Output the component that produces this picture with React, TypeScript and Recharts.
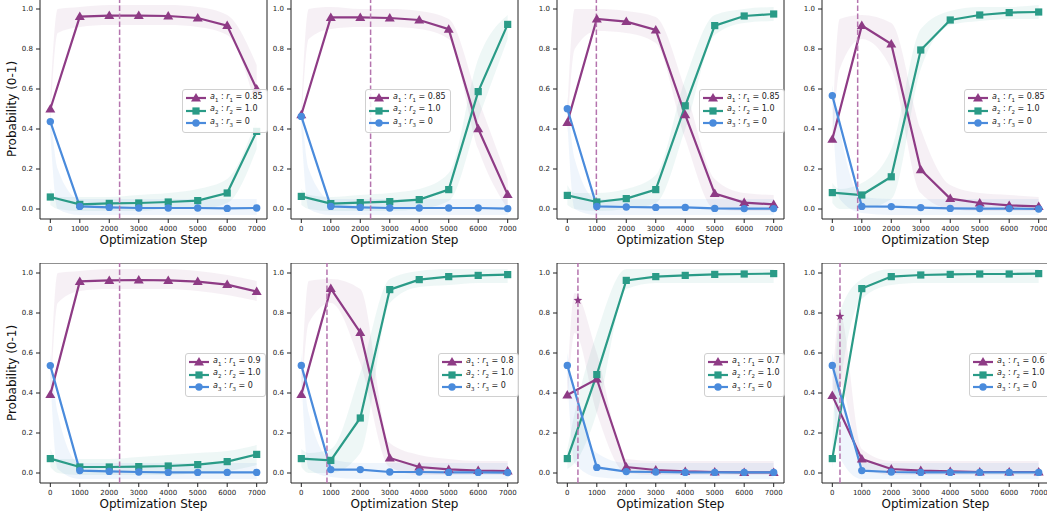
import {
  ComposedChart,
  Line,
  Area,
  XAxis,
  YAxis,
  ReferenceLine,
  ReferenceArea,
  Scatter,
  Legend,
} from "recharts";

// marker steps and the finer grid the std bands were sampled on
const MARK_STEPS = [0, 1000, 2000, 3000, 4000, 5000, 6000, 7000];
const BAND_STEPS = [0, 250, 1000, 2000, 3000, 4000, 5000, 6000, 7000];
const Y_TICKS = [0, 0.2, 0.4, 0.6, 0.8, 1.0];

// one row per panel (top row left->right, then bottom row)
const A1_MEAN = [
  [0.5, 0.962, 0.967, 0.967, 0.965, 0.955, 0.917, 0.6],
  [0.471, 0.958, 0.958, 0.955, 0.945, 0.899, 0.401, 0.072],
  [0.433, 0.95, 0.937, 0.895, 0.471, 0.077, 0.032, 0.023],
  [0.349, 0.917, 0.825, 0.196, 0.052, 0.03, 0.018, 0.013],
  [0.392, 0.958, 0.963, 0.965, 0.963, 0.957, 0.942, 0.907],
  [0.392, 0.922, 0.703, 0.075, 0.03, 0.018, 0.012, 0.01],
  [0.39, 0.47, 0.03, 0.015, 0.008, 0.005, 0.003, 0.003],
  [0.387, 0.07, 0.02, 0.012, 0.008, 0.005, 0.005, 0.005],
];
const A2_MEAN = [
  [0.06, 0.023, 0.028, 0.03, 0.035, 0.042, 0.08, 0.388],
  [0.063, 0.027, 0.032, 0.037, 0.047, 0.097, 0.587, 0.923],
  [0.068, 0.035, 0.052, 0.097, 0.516, 0.917, 0.965, 0.975],
  [0.082, 0.07, 0.161, 0.795, 0.945, 0.97, 0.982, 0.985],
  [0.072, 0.03, 0.03, 0.032, 0.035, 0.042, 0.057, 0.093],
  [0.072, 0.063, 0.275, 0.917, 0.967, 0.982, 0.988, 0.992],
  [0.072, 0.492, 0.963, 0.982, 0.988, 0.993, 0.995, 0.997],
  [0.072, 0.922, 0.982, 0.99, 0.993, 0.995, 0.995, 0.997],
];
const A3_MEAN = [
  [0.437, 0.013, 0.008, 0.005, 0.005, 0.005, 0.003, 0.005],
  [0.463, 0.013, 0.008, 0.005, 0.005, 0.005, 0.005, 0.002],
  [0.501, 0.013, 0.01, 0.008, 0.008, 0.003, 0.002, 0.002],
  [0.567, 0.013, 0.012, 0.007, 0.003, 0.002, 0.002, 0.0],
  [0.537, 0.012, 0.008, 0.005, 0.003, 0.003, 0.003, 0.003],
  [0.538, 0.017, 0.017, 0.005, 0.005, 0.003, 0.003, 0.002],
  [0.538, 0.028, 0.007, 0.005, 0.003, 0.003, 0.003, 0.003],
  [0.538, 0.012, 0.005, 0.003, 0.003, 0.003, 0.003, 0.003],
];

const A1_LO = [
  [0.45, 0.88, 0.91, 0.92, 0.92, 0.92, 0.91, 0.87, 0.5],
  [0.42, 0.85, 0.9, 0.91, 0.91, 0.9, 0.85, 0.3, 0.0],
  [0.38, 0.8, 0.89, 0.88, 0.83, 0.35, 0.0, -0.01, -0.01],
  [0.3, 0.7, 0.85, 0.7, 0.08, 0.0, -0.01, -0.01, -0.01],
  [0.35, 0.85, 0.91, 0.92, 0.92, 0.92, 0.91, 0.89, 0.86],
  [0.35, 0.75, 0.85, 0.55, 0.03, -0.01, -0.01, -0.01, -0.01],
  [0.35, 0.7, 0.3, 0.0, -0.01, -0.01, -0.01, -0.01, -0.01],
  [0.35, 0.45, 0.03, -0.01, -0.01, -0.01, -0.01, -0.01, -0.01],
];
const A1_HI = [
  [0.55, 1.0, 1.01, 1.02, 1.02, 1.02, 1.01, 0.97, 0.72],
  [0.5, 1.0, 1.01, 1.0, 1.0, 0.99, 0.95, 0.55, 0.15],
  [0.48, 1.0, 1.0, 0.99, 0.96, 0.6, 0.15, 0.08, 0.07],
  [0.4, 0.95, 0.97, 0.93, 0.4, 0.12, 0.08, 0.07, 0.06],
  [0.44, 1.0, 1.01, 1.02, 1.02, 1.02, 1.01, 0.99, 0.96],
  [0.44, 0.96, 0.97, 0.92, 0.15, 0.09, 0.07, 0.06, 0.06],
  [0.45, 0.9, 0.6, 0.07, 0.06, 0.06, 0.06, 0.06, 0.06],
  [0.43, 0.8, 0.12, 0.06, 0.06, 0.06, 0.06, 0.06, 0.06],
];
const A2_LO = [
  [0.02, 0.0, -0.01, -0.01, -0.01, 0.0, 0.0, 0.03, 0.3],
  [0.02, 0.0, -0.01, -0.01, -0.01, 0.0, 0.04, 0.45, 0.85],
  [0.02, 0.0, -0.01, 0.0, 0.03, 0.4, 0.87, 0.93, 0.94],
  [0.03, 0.0, 0.0, 0.05, 0.7, 0.92, 0.94, 0.95, 0.95],
  [0.03, 0.0, -0.01, -0.01, -0.01, -0.01, 0.0, 0.01, 0.04],
  [0.03, 0.0, 0.0, 0.1, 0.85, 0.93, 0.94, 0.95, 0.95],
  [0.02, 0.05, 0.3, 0.92, 0.95, 0.95, 0.95, 0.95, 0.95],
  [0.02, 0.4, 0.87, 0.94, 0.95, 0.95, 0.95, 0.95, 0.95],
];
const A2_HI = [
  [0.1, 0.06, 0.06, 0.06, 0.07, 0.08, 0.1, 0.15, 0.45],
  [0.1, 0.07, 0.06, 0.07, 0.08, 0.1, 0.18, 0.75, 0.97],
  [0.12, 0.08, 0.08, 0.1, 0.17, 0.65, 0.97, 1.0, 1.01],
  [0.13, 0.1, 0.13, 0.3, 0.9, 0.99, 1.01, 1.01, 1.02],
  [0.12, 0.07, 0.07, 0.07, 0.08, 0.09, 0.1, 0.11, 0.14],
  [0.12, 0.1, 0.12, 0.5, 0.97, 1.01, 1.02, 1.02, 1.02],
  [0.12, 0.3, 0.7, 1.02, 1.02, 1.02, 1.02, 1.02, 1.02],
  [0.12, 0.8, 0.97, 1.02, 1.02, 1.02, 1.02, 1.02, 1.02],
];
const A3_LO = [
  [0.38, 0.0, -0.03, -0.03, -0.03, -0.03, -0.03, -0.03, -0.03],
  [0.4, 0.0, -0.03, -0.03, -0.03, -0.03, -0.03, -0.03, -0.03],
  [0.44, 0.0, -0.03, -0.03, -0.03, -0.03, -0.03, -0.03, -0.03],
  [0.5, 0.05, -0.02, -0.03, -0.03, -0.03, -0.03, -0.03, -0.03],
  [0.48, 0.02, -0.03, -0.03, -0.03, -0.03, -0.03, -0.03, -0.03],
  [0.48, 0.02, -0.02, -0.03, -0.03, -0.03, -0.03, -0.03, -0.03],
  [0.48, 0.05, -0.02, -0.03, -0.03, -0.03, -0.03, -0.03, -0.03],
  [0.48, 0.08, -0.03, -0.03, -0.03, -0.03, -0.03, -0.03, -0.03],
];
const A3_HI = [
  [0.5, 0.2, 0.05, 0.05, 0.05, 0.05, 0.05, 0.05, 0.05],
  [0.52, 0.2, 0.05, 0.05, 0.05, 0.05, 0.05, 0.05, 0.05],
  [0.56, 0.25, 0.05, 0.05, 0.05, 0.05, 0.05, 0.05, 0.05],
  [0.62, 0.4, 0.06, 0.05, 0.05, 0.05, 0.05, 0.05, 0.05],
  [0.6, 0.3, 0.05, 0.05, 0.05, 0.05, 0.05, 0.05, 0.05],
  [0.6, 0.3, 0.07, 0.05, 0.05, 0.05, 0.05, 0.05, 0.05],
  [0.6, 0.4, 0.1, 0.05, 0.05, 0.05, 0.05, 0.05, 0.05],
  [0.6, 0.45, 0.05, 0.05, 0.05, 0.05, 0.05, 0.05, 0.05],
];

const R1_VALUES = ["0.85", "0.85", "0.85", "0.85", "0.9", "0.8", "0.7", "0.6"];
const R2_VALUE = "1.0";
const R3_VALUE = "0";
const DASH_STEP = [2350, 2350, 985, 860, 2350, 870, 360, 260];
const STARS = [null, null, null, null, null, null, {step: 360, p: 0.863}, {step: 260, p: 0.783}];

const C1 = "#8e3b85";
const C2 = "#2a9b87";
const C3 = "#4a8bdc";
const DASH_COLOR = "#b574ae";
const FONT = "DejaVu Sans, sans-serif";

// chart placement on the page (chart left, chart top, legend offset from plot left)
const COL_LEFT = [0, 251, 517, 782];
const ROW_TOP = [-1, 263];
const LEG_X = [142, 74, 142, 142, 145, 147, 147, 147];

const CHART_W = 268;
const CHART_H = 250;
const AXIS_W = 40;

function buildRows(i: number) {
  return BAND_STEPS.map((step, k) => {
    const m = MARK_STEPS.indexOf(step);
    return {
      step,
      a1: m >= 0 ? A1_MEAN[i][m] : null,
      a2: m >= 0 ? A2_MEAN[i][m] : null,
      a3: m >= 0 ? A3_MEAN[i][m] : null,
      b1: [A1_LO[i][k], A1_HI[i][k]],
      b2: [A2_LO[i][k], A2_HI[i][k]],
      b3: [A3_LO[i][k], A3_HI[i][k]],
    };
  });
}

function marker(kind: string, color: string, cx: number, cy: number, key?: any) {
  if (kind === "tri") {
    return (
      <polygon
        key={key}
        points={`${cx},${cy - 5} ${cx - 5},${cy + 3.5} ${cx + 5},${cy + 3.5}`}
        fill={color}
      />
    );
  }
  if (kind === "sq") {
    return <rect key={key} x={cx - 3.6} y={cy - 3.6} width={7.2} height={7.2} fill={color} />;
  }
  return <circle key={key} cx={cx} cy={cy} r={3.7} fill={color} />;
}

function dotFn(kind: string, color: string) {
  return (props: any) => {
    const {cx, cy, index} = props;
    if (!Number.isFinite(cx) || !Number.isFinite(cy)) return <g key={`e${index}`} />;
    return marker(kind, color, cx, cy, `d${index}`);
  };
}

function starShape(props: any) {
  const {cx, cy} = props;
  if (!Number.isFinite(cx) || !Number.isFinite(cy)) return <g />;
  const pts: string[] = [];
  for (let k = 0; k < 10; k++) {
    const r = k % 2 === 0 ? 4.6 : 1.9;
    const a = -Math.PI / 2 + (k * Math.PI) / 5;
    pts.push(`${cx + r * Math.cos(a)},${cy + r * Math.sin(a)}`);
  }
  return <polygon points={pts.join(" ")} fill={C1} />;
}

function LegendRow({kind, color, a, r, v}: any) {
  return (
    <div style={{display: "flex", alignItems: "center", height: 12.5}}>
      <svg width={20} height={10} style={{marginRight: 4, flex: "none"}}>
        <line x1={0} y1={5} x2={20} y2={5} stroke={color} strokeWidth={2.2} />
        {marker(kind, color, 10, 5)}
      </svg>
      <span style={{whiteSpace: "nowrap"}}>
        <i>a</i>
        <sub style={{fontSize: 5.5}}>{a}</sub> : <i>r</i>
        <sub style={{fontSize: 5.5}}>{r}</sub> = {v}
      </span>
    </div>
  );
}

function PanelLegend({r1}: {r1: string}) {
  return (
    <div
      style={{
        background: "rgba(255,255,255,0.85)",
        border: "1px solid #d0d0d0",
        borderRadius: 3,
        padding: "2px 4px 2px 3px",
        fontSize: 8,
        fontFamily: FONT,
        color: "#222",
        lineHeight: "10px",
      }}
    >
      <LegendRow kind="tri" color={C1} a="1" r="1" v={r1} />
      <LegendRow kind="sq" color={C2} a="2" r="2" v={R2_VALUE} />
      <LegendRow kind="dot" color={C3} a="3" r="3" v={R3_VALUE} />
    </div>
  );
}

function Panel({i}: {i: number}) {
  const rows = buildRows(i);
  const star = STARS[i];
  const tick = {fontSize: 7, fill: "#222", fontFamily: FONT};
  return (
    <div
      style={{
        position: "absolute",
        left: COL_LEFT[i % 4],
        top: ROW_TOP[Math.floor(i / 4)],
        width: CHART_W,
        height: CHART_H,
      }}
    >
      <ComposedChart
        width={CHART_W}
        height={CHART_H}
        data={rows}
        margin={{top: 0, right: 1, left: 0, bottom: 0}}
        style={{overflow: "visible"}}
      >
        <XAxis
          type="number"
          dataKey="step"
          domain={[-350, 7350]}
          ticks={MARK_STEPS}
          interval={0}
          allowDataOverflow
          axisLine={false}
          tickLine={{stroke: "#222"}}
          tickSize={4}
          tickMargin={3}
          tick={tick}
          height={30}
          label={{
            value: "Optimization Step",
            position: "insideBottom",
            offset: 5,
            fontSize: 12,
            fill: "#111",
            fontFamily: FONT,
          }}
        />
        <YAxis
          type="number"
          domain={[-0.05, 1.05]}
          ticks={Y_TICKS}
          interval={0}
          allowDataOverflow
          axisLine={false}
          tickLine={{stroke: "#222"}}
          tickSize={4}
          tickMargin={3}
          tick={tick}
          tickFormatter={(v: number) => v.toFixed(1)}
          width={AXIS_W}
          label={
            i % 4 === 0
              ? {
                  content: (p: any) => {
                    const vb = p.viewBox || {x: 0, y: 0, height: 220};
                    const cx = vb.x + 12;
                    const cy = vb.y + vb.height / 2;
                    return (
                      <text
                        x={cx}
                        y={cy}
                        transform={`rotate(-90 ${cx} ${cy})`}
                        textAnchor="middle"
                        dominantBaseline="central"
                        fontSize={12}
                        fill="#111"
                        fontFamily={FONT}
                      >
                        Probability (0-1)
                      </text>
                    );
                  },
                }
              : undefined
          }
        />
        <Area dataKey="b1" type="monotone" stroke="none" fill={C1} fillOpacity={0.08} isAnimationActive={false} activeDot={false} />
        <Area dataKey="b2" type="monotone" stroke="none" fill={C2} fillOpacity={0.08} isAnimationActive={false} activeDot={false} />
        <Area dataKey="b3" type="monotone" stroke="none" fill={C3} fillOpacity={0.09} isAnimationActive={false} activeDot={false} />
        <Line dataKey="a1" type="linear" stroke={C1} strokeWidth={2.2} connectNulls dot={dotFn("tri", C1)} activeDot={false} isAnimationActive={false} />
        <Line dataKey="a2" type="linear" stroke={C2} strokeWidth={2.2} connectNulls dot={dotFn("sq", C2)} activeDot={false} isAnimationActive={false} />
        <Line dataKey="a3" type="linear" stroke={C3} strokeWidth={2.2} connectNulls dot={dotFn("dot", C3)} activeDot={false} isAnimationActive={false} />
        <ReferenceLine x={DASH_STEP[i]} stroke={DASH_COLOR} strokeWidth={1.5} strokeDasharray="5.5 2.5" />
        {star && (
          <Scatter data={[star]} dataKey="p" shape={starShape} isAnimationActive={false} />
        )}
        <ReferenceArea x1={-350} x2={7350} y1={-0.05} y2={1.05} fill="none" fillOpacity={0} stroke="#222" strokeWidth={1} />
        <Legend
          layout="vertical"
          align="center"
          verticalAlign="middle"
          wrapperStyle={{left: AXIS_W + LEG_X[i], top: 90, width: "auto", right: "auto", bottom: "auto"}}
          content={() => <PanelLegend r1={R1_VALUES[i]} />}
        />
      </ComposedChart>
    </div>
  );
}

export default function App() {
  return (
    <div
      style={{
        position: "absolute",
        left: 0,
        top: 0,
        width: 1047,
        height: 516,
        overflow: "hidden",
        background: "#fff",
        fontFamily: FONT,
      }}
    >
      {[0, 1, 2, 3, 4, 5, 6, 7].map((i) => (
        <Panel key={i} i={i} />
      ))}
    </div>
  );
}
